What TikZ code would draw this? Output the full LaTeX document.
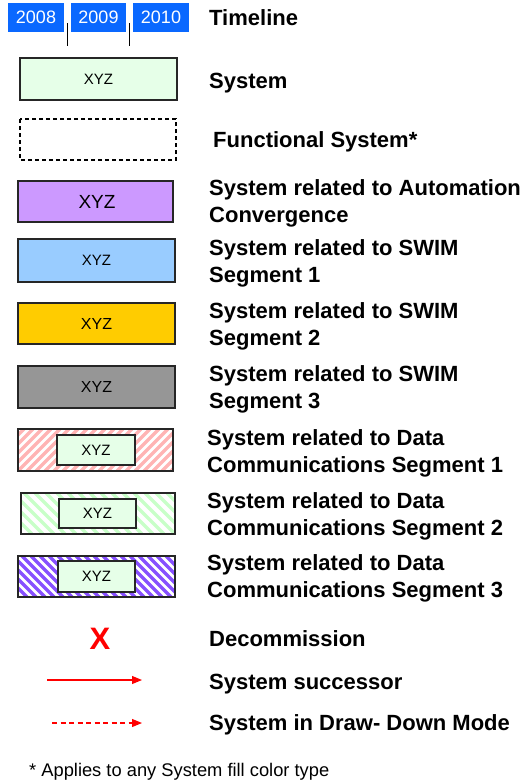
\documentclass[tikz,border=0pt]{standalone}
\usepackage{fontspec}
\setmainfont{Liberation Sans}
\usetikzlibrary{arrows.meta}
\definecolor{yearblue}{RGB}{10,104,255}
\definecolor{sysgreen}{RGB}{230,255,232}
\definecolor{autopurple}{RGB}{204,153,255}
\definecolor{swimblue}{RGB}{153,204,255}
\definecolor{swimyellow}{RGB}{255,204,0}
\definecolor{swimgray}{RGB}{150,150,150}
\definecolor{hatchred}{RGB}{255,180,180}
\definecolor{hatchgreen}{RGB}{200,255,200}
\definecolor{hatchpurple}{RGB}{135,80,255}
\definecolor{xred}{RGB}{255,0,0}
\tikzset{
  yearbox/.style={fill=yearblue, text=white, inner sep=0pt, font=\fontsize{18}{20}\selectfont},
  sysbox/.style={draw=black!85, line width=1.1pt, inner sep=0pt},
  lbl/.style={anchor=base west, align=left, inner sep=0pt, font=\bfseries\fontsize{22}{26.5}\selectfont},
  xyz/.style={inner sep=0pt},
  redarrow/.style={draw=xred, color=xred, line width=1.1pt, -{Triangle[length=10pt,width=8pt]}},
}
% \hatchbox{x1}{y1}{x2}{y2}{colour}{slope sign}{period}
\newcommand{\hatchbox}[7]{%
  \begin{scope}
    \clip (#1,#2) rectangle (#3,#4);
    \foreach \k in {-8,...,24} {
      \draw[#5, line width=3.3pt] ({#1+\k*#7},#4) -- ({#1+\k*#7+#6*(#4-#2)},#2);
    }
  \end{scope}
}
\begin{document}
\begin{tikzpicture}[x=1pt,y=-1pt]
\useasboundingbox (0,0) rectangle (529,782);
% timeline
\node[yearbox, minimum width=56pt, minimum height=29pt] (y1) at (36,17.5) {2008};
\node[yearbox, minimum width=55pt, minimum height=29pt] (y2) at (98.5,17.5) {2009};
\node[yearbox, minimum width=56pt, minimum height=29pt] (y3) at (161,17.5) {2010};
\coordinate (t1a) at (67.5,23); \coordinate (t1b) at (67.5,46);
\coordinate (t2a) at (129.5,23); \coordinate (t2b) at (129.5,46);
\draw[line width=1.5pt] (t1a) -- (t1b);
\draw[line width=1.5pt] (t2a) -- (t2b);
\node[lbl] (l1) at (209,25) {Timeline};
% system
\draw[sysbox, fill=sysgreen] (20,58) rectangle (177,100);
\node[xyz, font=\fontsize{15}{17}\selectfont] (s1) at (98.5,79) {XYZ};
\node[lbl] (l2) at (209,88) {System};
% functional
\draw[line width=1.2pt, dash pattern=on 4pt off 3pt] (20,119) rectangle (176,160);
\node[lbl] (l3) at (213,147) {Functional System*};
% automation
\draw[sysbox, fill=autopurple] (18,181) rectangle (173,222);
\node[xyz, font=\fontsize{19}{21}\selectfont] (s2) at (97,201.5) {XYZ};
\node[lbl] (l4) at (209,222) {System related to Automation\\Convergence};
% swim 1
\draw[sysbox, fill=swimblue] (18,239) rectangle (175,282);
\node[xyz, font=\fontsize{15}{17}\selectfont] (s3) at (96.5,260.5) {XYZ};
\node[lbl] (l5) at (209,282) {System related to SWIM\\Segment 1};
% swim 2
\draw[sysbox, fill=swimyellow] (18,303) rectangle (175,344);
\node[xyz, font=\fontsize{16}{18}\selectfont] (s4) at (96.5,323.5) {XYZ};
\node[lbl] (l6) at (209,345) {System related to SWIM\\Segment 2};
% swim 3
\draw[sysbox, fill=swimgray] (18,366) rectangle (175,408);
\node[xyz, font=\fontsize{16}{18}\selectfont] (s5) at (96.5,387) {XYZ};
\node[lbl] (l7) at (209,408) {System related to SWIM\\Segment 3};
% data comm 1
\hatchbox{18}{429}{173}{471}{hatchred}{1}{9}
\draw[sysbox] (18,429) rectangle (173,471);
\draw[sysbox, fill=sysgreen] (57,435) rectangle (135,465);
\node[xyz, font=\fontsize{15}{17}\selectfont] (s6) at (96,450) {XYZ};
\node[lbl] (l8) at (207,472) {System related to Data\\Communications Segment 1};
% data comm 2
\hatchbox{21}{493}{175}{534}{hatchgreen}{-1}{11}
\draw[sysbox] (21,493) rectangle (175,534);
\draw[sysbox, fill=sysgreen] (59,499) rectangle (136,528);
\node[xyz, font=\fontsize{15}{17}\selectfont] (s7) at (97.5,513.5) {XYZ};
\node[lbl] (l9) at (207,535) {System related to Data\\Communications Segment 2};
% data comm 3
\hatchbox{18}{556}{175}{597}{hatchpurple}{-1}{9}
\draw[sysbox] (18,556) rectangle (175,597);
\draw[sysbox, fill=sysgreen] (58,561) rectangle (135,592);
\node[xyz, font=\fontsize{15}{17}\selectfont] (s8) at (96.5,576.5) {XYZ};
\node[lbl] (l10) at (207,597) {System related to Data\\Communications Segment 3};
% decommission
\node[text=xred, inner sep=0pt, font=\bfseries\fontsize{31}{33}\selectfont] (x) at (100,638.5) {X};
\node[lbl] (l11) at (209,646) {Decommission};
% successor
\coordinate (a1s) at (47,680); \coordinate (a1e) at (142,680);
\draw[redarrow] (a1s) -- (a1e);
\node[lbl] (l12) at (209,689) {System successor};
% draw-down
\coordinate (a2s) at (52,723); \coordinate (a2e) at (142,723);
\draw[redarrow, dash pattern=on 5pt off 3.5pt] (a2s) -- (a2e);
\node[lbl] (l13) at (209,730) {System in Draw- Down Mode};
% footnote
\node[anchor=base west, inner sep=0pt, font=\fontsize{18.3}{20}\selectfont] (fn) at (29,776) {* Applies to any System fill color type};
\end{tikzpicture}
\end{document}
